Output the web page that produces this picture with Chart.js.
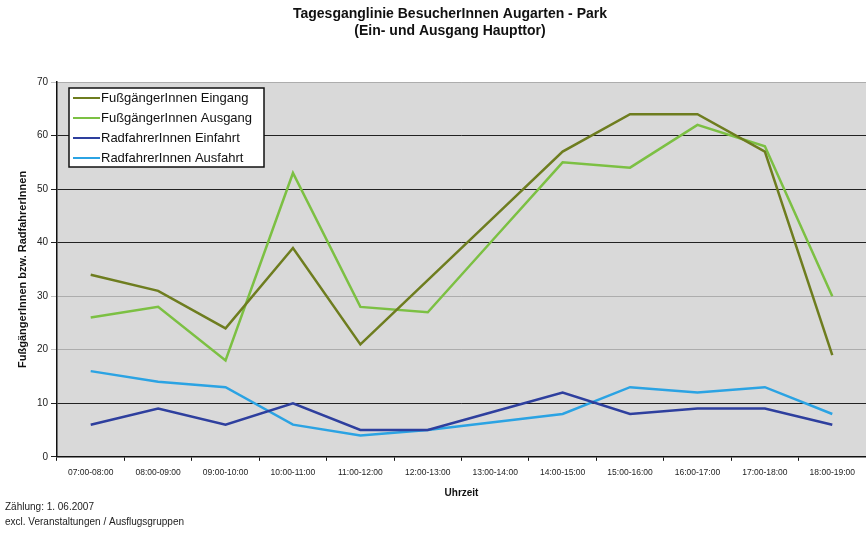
<!DOCTYPE html>
<html>
<head>
<meta charset="utf-8">
<script src="https://cdn.jsdelivr.net/npm/chart.js@4/dist/chart.umd.min.js"></script>
<style>
  html, body { margin: 0; padding: 0; background: #fff; }
  #wrap { width: 866px; height: 535px; }
</style>
</head>
<body>
<div id="wrap"><canvas id="myChart" width="866" height="535"></canvas></div>
<script>
  // Uhrzeit-Kategorien
  const zeiten = ['07:00-08:00', '08:00-09:00', '09:00-10:00', '10:00-11:00', '11:00-12:00', '12:00-13:00',
    '13:00-14:00', '14:00-15:00', '15:00-16:00', '16:00-17:00', '17:00-18:00', '18:00-19:00'];
  // Werte
  const fussEingang = [34, 31, 24, 39, 21, 33, 45, 57, 64, 64, 57, 19];
  const fussAusgang = [26, 28, 18, 53, 28, 27, 41, 55, 54, 62, 58, 30];
  const radEinfahrt = [6, 9, 6, 10, 5, 5, 8.5, 12, 8, 9, 9, 6];
  const radAusfahrt = [16, 14, 13, 6, 4, 5, 6.5, 8, 13, 12, 13, 8];
  const yTicks = [0, 10, 20, 30, 40, 50, 60, 70];

  const FONT = '"Liberation Sans", Arial, sans-serif';

  // Hintergrund, Titel, Legende im Plot und Fußnote
  const extras = {
    id: 'extras',
    beforeDraw: (chart) => {
      const { ctx, chartArea: a } = chart;
      ctx.save();
      ctx.fillStyle = '#d9d9d9';
      ctx.fillRect(a.left, a.top, a.right - a.left, a.bottom - a.top);
      ctx.restore();
    },
    afterDraw: (chart) => {
      const { ctx } = chart;
      ctx.save();
      // Titel
      ctx.fillStyle = '#111';
      ctx.font = 'bold 14px ' + FONT;
      ctx.textAlign = 'center';
      ctx.textBaseline = 'middle';
      ctx.fillText('Tagesganglinie BesucherInnen Augarten - Park', 450, 14);
      ctx.fillText('(Ein- und Ausgang Haupttor)', 450, 31);
      // Legende
      const bx = 69, by = 88, bw = 195, bh = 79;
      ctx.fillStyle = '#fff';
      ctx.fillRect(bx, by, bw, bh);
      ctx.strokeStyle = '#111';
      ctx.lineWidth = 1.5;
      ctx.strokeRect(bx, by, bw, bh);
      ctx.font = '13px ' + FONT;
      ctx.textAlign = 'left';
      chart.data.datasets.forEach((ds, i) => {
        const y = by + 10 + i * 20;
        ctx.strokeStyle = ds.borderColor;
        ctx.lineWidth = 2;
        ctx.beginPath();
        ctx.moveTo(bx + 4, y);
        ctx.lineTo(bx + 31, y);
        ctx.stroke();
        ctx.fillStyle = '#111';
        ctx.fillText(ds.label, bx + 32, y);
      });
      // Fußnote
      ctx.font = '10px ' + FONT;
      ctx.fillStyle = '#222';
      ctx.fillText('Zählung: 1. 06.2007', 5, 507);
      ctx.fillText('excl. Veranstaltungen / Ausflugsgruppen', 5, 522);
      ctx.restore();
    }
  };

  const gridColor = (c) => (c.tick && (c.tick.value === 20 || c.tick.value === 30 || c.tick.value === 70)) ? 'rgba(120,120,120,0.45)' : '#222';

  new Chart(document.getElementById('myChart'), {
    type: 'line',
    data: {
      labels: zeiten,
      datasets: [
        { label: 'FußgängerInnen Eingang', data: fussEingang, borderColor: '#6e7d1f' },
        { label: 'FußgängerInnen Ausgang', data: fussAusgang, borderColor: '#7cc043' },
        { label: 'RadfahrerInnen Einfahrt', data: radEinfahrt, borderColor: '#2e3f9e' },
        { label: 'RadfahrerInnen Ausfahrt', data: radAusfahrt, borderColor: '#2ba3e3' }
      ].map(d => Object.assign(d, { borderWidth: 2.5, pointRadius: 0, tension: 0, fill: false }))
    },
    plugins: [extras],
    options: {
      responsive: false,
      animation: false,
      layout: { padding: { left: 14, right: 0, top: 82, bottom: 36 } },
      plugins: {
        legend: { display: false },
        tooltip: { enabled: false },
        title: { display: false }
      },
      scales: {
        x: {
          offset: true,
          grid: { display: true, drawOnChartArea: false, offset: true, color: '#111', tickLength: 4 },
          border: { color: '#111', width: 1.5 },
          ticks: { color: '#222', font: { family: FONT, size: 8.5 }, maxRotation: 0, autoSkip: false, padding: 7 },
          title: { display: true, text: 'Uhrzeit', color: '#111', font: { family: FONT, size: 10, weight: 'bold' }, padding: { top: 2, bottom: 0 } }
        },
        y: {
          min: 0,
          max: 70,
          afterBuildTicks: (s) => { s.ticks = yTicks.map(v => ({ value: v })); },
          afterFit: (s) => { s.width = 43; },
          grid: { color: gridColor, borderDash: [16, 4], tickLength: 6 },
          border: { color: '#111', width: 1.5, dash: [] },
          ticks: { color: '#222', font: { family: FONT, size: 10 }, padding: 3 },
          title: { display: true, text: 'FußgängerInnen bzw. RadfahrerInnen', color: '#111', font: { family: FONT, size: 11, weight: 'bold' }, padding: 2 }
        }
      }
    }
  });
</script>
</body>
</html>
